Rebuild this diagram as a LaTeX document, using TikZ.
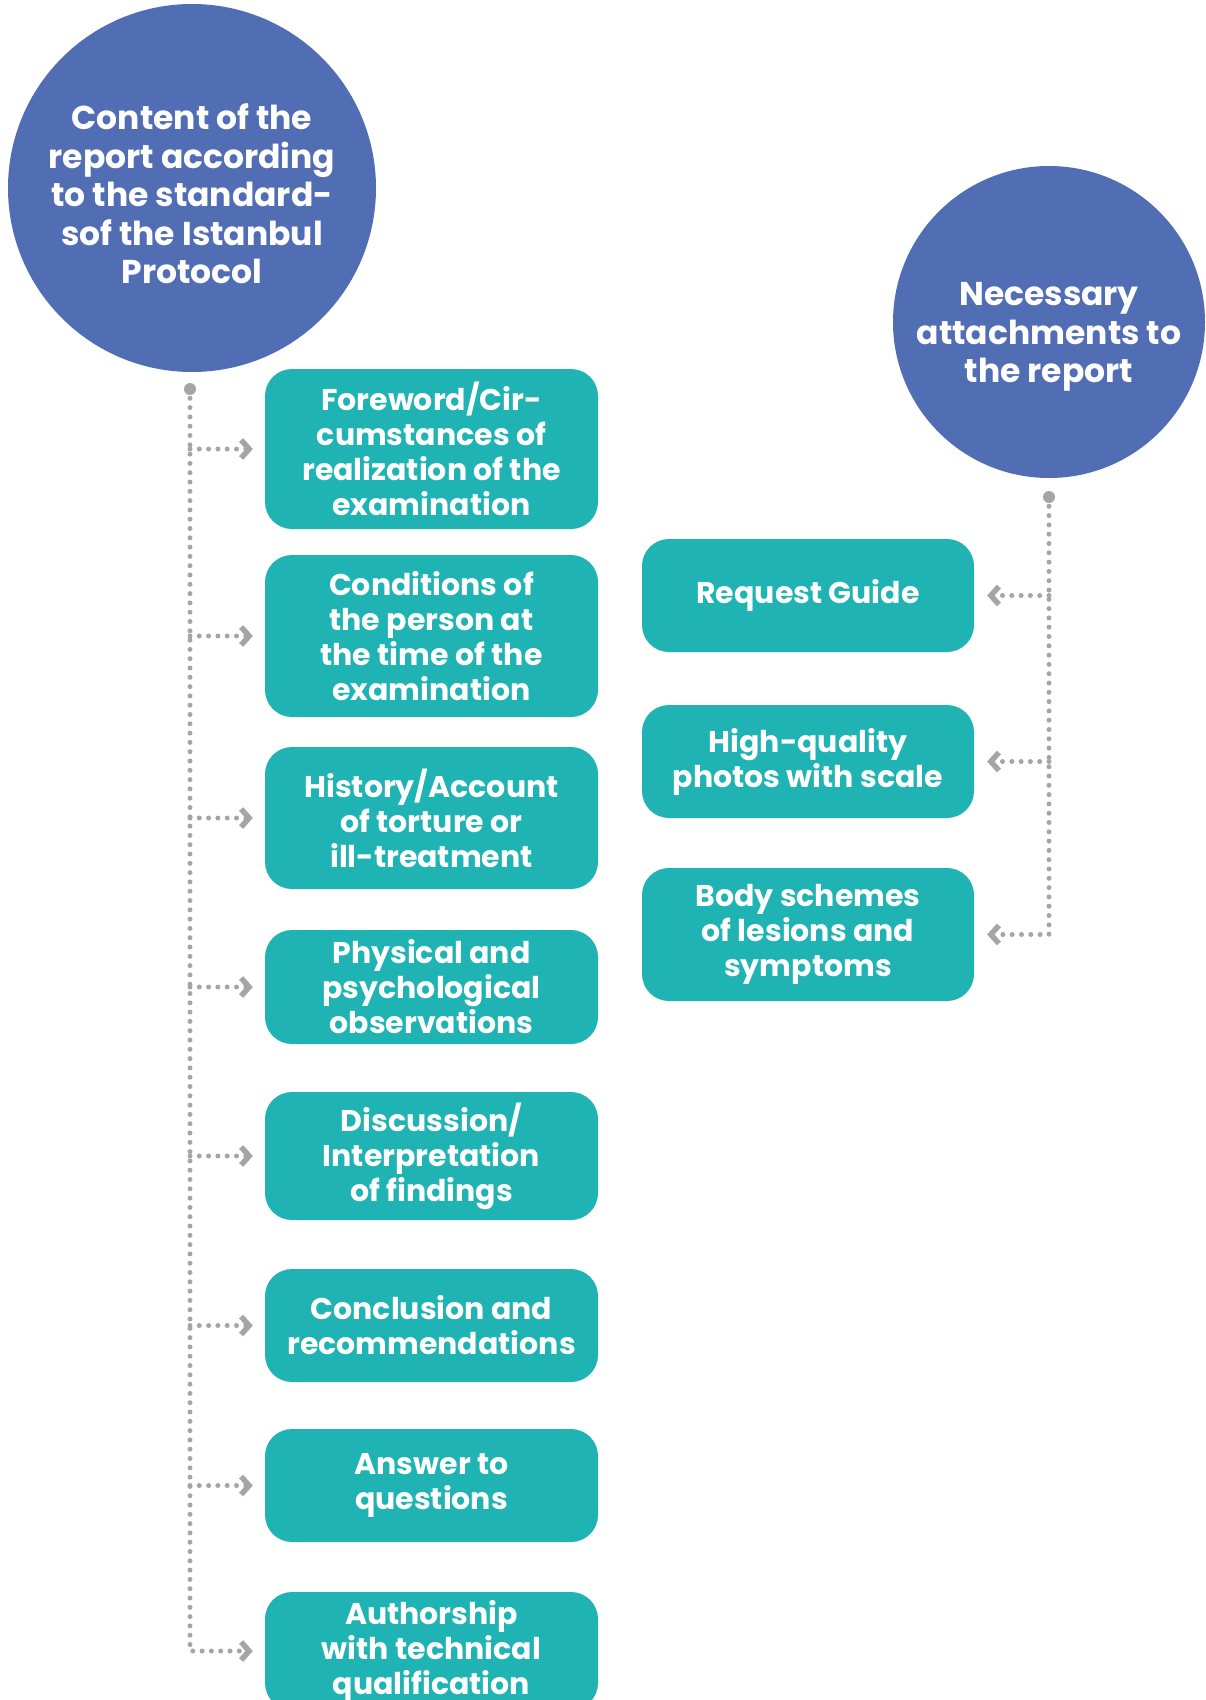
\documentclass[tikz,border=0pt]{standalone}
\usepackage{fontspec}
\setmainfont{Poppins}
\usetikzlibrary{arrows.meta}

\definecolor{bleuRond}{HTML}{516DB4}
\definecolor{turquoise}{HTML}{20B3B3}
\definecolor{grisPoint}{HTML}{A5A5A5}

\tikzset{
	rond/.style={circle, fill=bleuRond, inner sep=0pt},
	rondtexte/.style={text=white, align=center, inner sep=0pt,
		font=\bfseries\fontsize{33}{38.5}\selectfont},
	boite/.style={rectangle, rounded corners=27pt, fill=turquoise, text=white, align=center,
		inner sep=0pt, minimum width=333pt, font=\bfseries\fontsize{30}{35}\selectfont},
	pointille/.style={draw=grisPoint, line width=5pt, line cap=round, dash pattern=on 0pt off 9.3pt},
	fleche/.style={-{Straight Barb[length=8pt,width=18pt,line width=5.5pt]}, shorten >=12pt},
}

\begin{document}
\begin{tikzpicture}[x=1pt,y=-1pt]
		% cadre de l'image (pixels)
		\useasboundingbox (0,0) rectangle (1206,1700);

		% les deux cercles
		\node[rond, minimum size=368pt,
			label={[rondtexte, yshift=-6pt]center:Content of the\\report according\\to the standard-\\sof the Istanbul\\Protocol}]
			(contenu) at (192,188) {};
		\node[rond, minimum size=312pt,
			label={[rondtexte, yshift=-15pt]center:Necessary\\attachments to\\the report}]
			(annexes) at (1049,322) {};

		% contenu du rapport : boites de gauche
		\foreach \i/\y/\h/\texte in {
			1/449/160/{Foreword/Cir-\\cumstances of\\realization of the\\examination},
			2/636/162/{Conditions of\\the person at\\the time of the\\examination},
			3/818/142/{History/Account\\of torture or\\ill-treatment},
			4/987/114/{Physical and\\psychological\\observations},
			5/1156/128/{Discussion/\\Interpretation\\of findings},
			6/1325.5/113/{Conclusion and\\recommendations},
			7/1485.5/113/{Answer to\\questions},
			8/1651/118/{Authorship\\with technical\\qualification}}{%
			\node[boite, minimum height=\h pt] (c\i) at (431.5,\y) {\texte};
		}

		% annexes : boites de droite
		\foreach \i/\y/\h/\texte in {
			1/595.5/113/{Request Guide},
			2/761.5/113/{High-quality\\photos with scale},
			3/934.5/133/{Body schemes\\of lesions and\\symptoms}}{%
			\node[boite, minimum height=\h pt, minimum width=332pt] (a\i) at (808,\y) {\texte};
		}

		% liaisons en pointilles
		\coordinate (hautG) at (190,389);
		\coordinate (hautD) at (1049,497);
		\fill[grisPoint] (hautG) circle (6pt);
		\fill[grisPoint] (hautD) circle (6pt);

		\draw[pointille, fleche] (hautG) |- (c8.west);
		\foreach \i in {1,...,7}{%
			\draw[pointille, fleche] (hautG |- c\i.west) -- (c\i.west);
		}

		\draw[pointille, fleche, shorten >=13pt] (hautD) |- (a3.east);
		\foreach \i in {1,2}{%
			\draw[pointille, fleche, shorten >=13pt] (hautD |- a\i.east) -- (a\i.east);
		}
	\end{tikzpicture}
\end{document}
